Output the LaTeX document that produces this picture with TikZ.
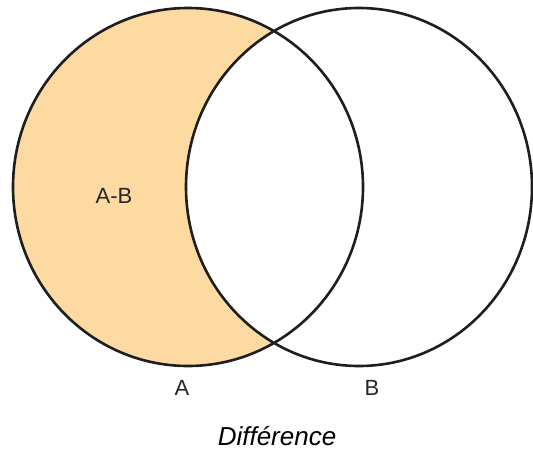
\documentclass[tikz,border=0pt]{standalone}
\usepackage{fontspec}
\setmainfont{Liberation Sans}
\definecolor{diffor}{RGB}{252,218,162}
\definecolor{edge}{RGB}{30,30,30}
\tikzset{
  setline/.style={draw=edge, line width=2.6pt},
  lab/.style={font=\fontsize{22}{24}\selectfont, text=black!85, inner sep=0pt}
}
\begin{document}
\begin{tikzpicture}[x=1pt,y=-1pt]
\useasboundingbox (0,0) rectangle (533,452);
\fill[diffor] (188,187) ellipse [x radius=175, y radius=179];
\fill[white] (359,187) ellipse [x radius=173, y radius=179];
\draw[setline] (188,187) ellipse [x radius=175, y radius=179];
\draw[setline] (359,187) ellipse [x radius=173, y radius=179];
\node[lab] (amb) at (114,196) {A-B};
\node[lab] (la) at (182,388) {A};
\node[lab] (lb) at (372,388) {B};
\node[font=\fontsize{26}{29}\selectfont\itshape, inner sep=0pt] (title) at (277,436) {Différence};
\end{tikzpicture}
\end{document}
